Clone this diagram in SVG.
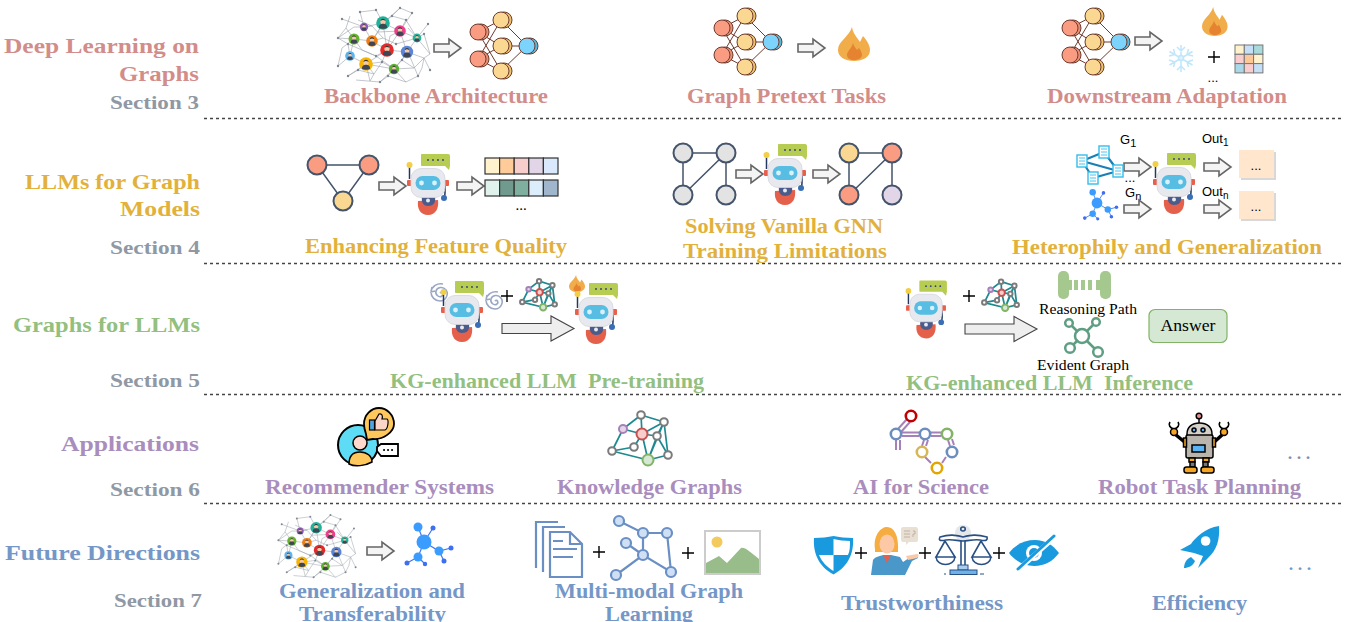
<svg xmlns="http://www.w3.org/2000/svg" xmlns:xlink="http://www.w3.org/1999/xlink" width="1356" height="622" viewBox="0 0 1356 622">
<style>
text{font-family:"Liberation Serif","Times New Roman",serif;white-space:pre}
.t{font-weight:700;font-size:21px}
.r{fill:#d28d8a}.y{fill:#e2b13c}.g{fill:#93bf7f}.p{fill:#a98dbd}.b{fill:#7497c8}.s{fill:#8f98a3;font-size:19px}
.k{fill:#000;font-size:17px}
.k15{fill:#000;font-size:15px}
.sans{font-family:"Liberation Sans",Arial,sans-serif;font-size:13px;fill:#000}
.dash{stroke:#444;stroke-width:1.4;stroke-dasharray:3 3;fill:none}
.ga{fill:none;stroke:#44546a;stroke-width:1.5}
.gn{stroke:#44546a;stroke-width:2}
.plus{stroke:#000;stroke-width:1.4;fill:none}
.sal{fill:#fa9c82}.yel{fill:#fad892}.lav{fill:#e1d5e7}.gry{fill:#e3e3e3}
.dots{fill:#7e8ea8;font-size:24px;letter-spacing:3px}
.doc{fill:#fff;stroke:#33bdec;stroke-width:1.4}
.mm{fill:#cfe0f5;stroke:#6a8fc4;stroke-width:2.2}
.mml{fill:none;stroke:#6a8fc4;stroke-width:2.2}
.bond{stroke:#a680b8;stroke-width:2;fill:none}
.mol{fill:#fff;stroke-width:2.6}
.nv{fill:none;stroke:#2a5083;stroke-width:1.6}
.ke{stroke:#1c8a91;stroke-width:var(--ke,1.7);fill:none}
.kn{fill:#fff;stroke:#7b7b7b;stroke-width:var(--kn,2)}
.heavy{--ke:3;--kn:3.4}
</style>
<defs>
<path id="arr" d="M0,-4H15V-9L27,0L15,9V4H0Z" fill="#f4f4f4" stroke="#666" stroke-width="1.6"/>
<path id="big" d="M0,-5H49V-12.5L72,0L49,12.5V5H0Z" fill="#eee" stroke="#444" stroke-width="1.1"/>
<g id="plus"><path class="plus" d="M-6,0H6M0,-6V6"/></g>
<g id="flame">
<path d="M14,0C15,7 19,10 22,15C23,13 24,11 25,9C29,14 32,18 32,23C32,30 25,34 16,34C7,34 0,30 0,23C0,14 11,10 14,0Z" fill="#f0ad4a"/>
<path d="M15,16C16,20 18,21 19,23C20,22 20,22 21,21C23,24 24,26 24,28C24,31 20,33 16,33C12,33 9,31 9,28C9,24 14,21 15,16Z" fill="#e58330"/>
</g>
<g id="nn">
<path d="M-23,-14L0,-26M-23,-14L0,0M-23,-14L0,25M-23,13L0,-26M-23,13L0,0M-23,13L0,25M0,-26L26,0M0,0L26,0M0,25L26,0" stroke="#6e3b2f" stroke-width="1" fill="none"/>
<g stroke="#6e3b2f" stroke-width="1">
<circle cx="-20" cy="-14" r="8" fill="#e98d73"/><circle cx="-23" cy="-14" r="8" class="sal"/>
<circle cx="-20" cy="13" r="8" fill="#e98d73"/><circle cx="-23" cy="13" r="8" class="sal"/>
<circle cx="3" cy="-26" r="8" fill="#eec36f"/><circle cx="0" cy="-26" r="8" class="yel"/>
<circle cx="3" cy="0" r="8" fill="#eec36f"/><circle cx="0" cy="0" r="8" class="yel"/>
<circle cx="3" cy="25" r="8" fill="#eec36f"/><circle cx="0" cy="25" r="8" class="yel"/>
<circle cx="29" cy="0" r="8" fill="#5bb8d8"/><circle cx="26" cy="0" r="8" fill="#7cd3fb"/>
</g>
</g>
<g id="per"><circle r="10"/><circle cy="-2" r="3.8" fill="#f3c9a8"/><path d="M-6,7C-6,2 -3,1 0,1C3,1 6,2 6,7C3,9 -3,9 -6,7Z" fill="#3d4652"/><path d="M-3.8,-3C-3,-7.500 3,-7.500 3.8,-3C1,-5 -1,-5 -3.8,-3Z" fill="#333"/></g>
<g id="crowd">
<g stroke="#9aa1aa" stroke-width=".6" fill="none">
<path d="M-46,-8L-30,-19M-30,-19L-20,-19M-20,-19L-1,-23M-1,-23L16,-15M16,-15L33,-8M33,-8L46,8M-30,-7L-12,-5M-12,-5L3,4M3,4L23,6M23,6L40,12M-34,10L-18,18M-18,18L10,23M10,23L24,6M-18,18L3,4M-30,-7L-34,10M-12,-5L-20,-19M-12,-5L-1,-23M-1,-23L3,4M16,-15L3,4M16,-15L23,6M33,-8L23,6M-42,-27L-20,-19M-20,-19L-24,-34M-1,-23L-8,-36M-1,-23L16,-38M16,-15L28,-33M33,-8L44,-22M40,12L46,24M24,6L34,30M10,23L22,36M10,23L-4,36M-18,18L-14,35M-18,18L-36,30M-34,10L-46,20M-30,-7L-46,-8M-22,4L-8,10L3,4M-8,10L10,23M-8,10L-22,4L-30,-7M-38,-18L-30,-7M-12,-20L-20,-19M12,-2L33,-8M12,-2L-1,-8L-12,-5M30,22L10,23M30,22L40,12M-10,28L-18,18M-4,36L-28,34M22,36L34,30M16,-38L28,-33M-8,-36L-24,-34M-34,-30L-38,-18M-38,-18L-46,-8M-36,-2L-46,-8M-36,-2L-34,10M-36,-2L-22,4M-26,-26L-12,-20L-1,-8M8,-30L-1,-23M8,-30L16,-38M8,-30L22,-26L33,-8M22,-26L16,-15M40,-12L46,8L40,12M40,-12L33,-8M38,22L40,12M38,22L34,30M18,14L23,6M18,14L10,23M18,14L30,22M-2,16L3,4M-2,16L-18,18M-2,16L10,23M-2,16L-10,28L-14,35M-26,24L-18,18M-26,24L-36,30M-26,24L-10,28M-42,2L-46,20M-42,2L-30,-7M4,30L10,23M4,30L-4,36M4,30L22,36M-6,-14L-1,-23M-6,-14L-12,-5M-6,-14L16,-15M24,-18L33,-8M6,-10L16,-15M6,-10L3,4"/>
</g>
<g fill="#7f8894"><circle cx="-46" cy="-8" r="1.2"/><circle cx="-24" cy="-34" r="1.2"/><circle cx="-8" cy="-36" r="1.2"/><circle cx="16" cy="-38" r="1.2"/><circle cx="44" cy="-22" r="1.2"/><circle cx="46" cy="24" r="1.2"/><circle cx="34" cy="30" r="1.2"/><circle cx="-4" cy="36" r="1.2"/><circle cx="-36" cy="30" r="1.2"/><circle cx="-46" cy="20" r="1.2"/><circle cx="-8" cy="10" r="1.2"/><circle cx="12" cy="-2" r="1.2"/><circle cx="-42" cy="-27" r="1.2"/><circle cx="28" cy="-33" r="1.2"/><circle cx="-36" cy="-2" r="1.2"/><circle cx="8" cy="-30" r="1.2"/><circle cx="22" cy="-26" r="1.2"/><circle cx="40" cy="-12" r="1.2"/><circle cx="18" cy="14" r="1.2"/><circle cx="-2" cy="16" r="1.2"/><circle cx="-26" cy="24" r="1.2"/><circle cx="4" cy="30" r="1.2"/></g>
<use href="#per" transform="translate(-20,-19) scale(.42)" fill="#8e5bb5"/>
<use href="#per" transform="translate(-1,-23) scale(.68)" fill="#1fb19a"/>
<use href="#per" transform="translate(16,-15) scale(.58)" fill="#ea3f8a"/>
<use href="#per" transform="translate(33,-8) scale(.44)" fill="#27b39a"/>
<use href="#per" transform="translate(-30,-7) scale(.55)" fill="#65b32e"/>
<use href="#per" transform="translate(-12,-5) scale(.58)" fill="#f07f13"/>
<use href="#per" transform="translate(3,4) scale(.68)" fill="#e32a2a"/>
<use href="#per" transform="translate(23,6) scale(.62)" fill="#5b85d9"/>
<use href="#per" transform="translate(-34,10) scale(.48)" fill="#5cb3f0"/>
<use href="#per" transform="translate(-18,18) scale(.68)" fill="#f7b500"/>
<use href="#per" transform="translate(10,23) scale(.52)" fill="#5bb030"/>
</g>
<g id="robot">
<path d="M-6.5,-29H20A2,2 0 0 1 22,-27V-17L21,-13L17,-17H-6.5A1,1 0 0 1 -7,-18V-28A1,1 0 0 1 -6.5,-29Z" fill="#b7cc52"/>
<g fill="#2f3f78"><circle cx="0" cy="-23" r=".9"/><circle cx="5" cy="-23" r=".9"/><circle cx="10" cy="-23" r=".9"/><circle cx="15" cy="-23" r=".9"/></g>
<path d="M-18.5,-16V-4" stroke="#24375f" stroke-width="1.5" fill="none"/>
<circle cx="-18.5" cy="-18" r="3" fill="#f2cf45"/>
<path d="M-10,18C-11,25 -8,32 0,32C8,32 11,25 10,17Z" fill="#e4604a"/>
<path d="M-6,14H7C8,20 5,23 0,23C-4,23 -7,20 -6,14Z" fill="#4a5c8c"/>
<circle cx="0" cy="17.500" r="2" fill="#e8eaee"/>
<path d="M17,-2V10C17,13 16,14 16,15" stroke="#24375f" stroke-width="1.5" fill="none"/>
<circle cx="16" cy="15" r="3" fill="#3a6fb5"/>
<rect x="-21" y="-3" width="5" height="6" rx="1" fill="#e8604c"/><rect x="16" y="-3" width="5" height="6" rx="1" fill="#e8604c"/>
<rect x="-17" y="-14.500" width="34" height="29" rx="10" fill="#e8e9ee" stroke="#d4d6dc" stroke-width=".8"/>
<rect x="-12.500" y="-7" width="25" height="14" rx="7" fill="#57bde3"/>
<circle cx="-6.500" r="2.400" fill="#d9f1fa"/><circle cx="6.500" r="2.400" fill="#d9f1fa"/>
</g>
<g id="spiral"><path d="M0,0C2,-2 4,1 2,3C-1,5 -5,2 -4,-2C-3,-6 3,-7 6,-3C9,1 6,8 0,8C-5,8 -9,4 -9,-1M-8,-6L-9,-1L-5,-2M3,-9C-3,-10 -8,-7 -9,-1" fill="none" stroke="#9aa7c4" stroke-width="1.6"/></g>
<g id="kg">
<path class="ke" d="M1,-23L24,-16M1,-23L-17,-9M1,-23L2,-4M24,-16L2,-4M24,-16L17,-2M24,-16L28,17M-17,-9L2,-4M-17,-9L-28,13M2,-4L17,-2M2,-4L-6,9M2,-4L8,22M17,-2L8,22M17,-2L28,17M-6,9L-28,13M-28,13L8,22M8,22L28,17M24,-16L8,22"/>
<g class="kn"><circle cx="1" cy="-23" r="3.800"/><circle cx="24" cy="-16" r="3.800"/><circle cx="17" cy="-2" r="3.800"/><circle cx="-6" cy="9" r="3.800"/><circle cx="-28" cy="13" r="3.800"/><circle cx="28" cy="17" r="3.800"/></g>
<circle cx="-17" cy="-9" r="4" fill="#e1d5e7" stroke="#a680b8" style="stroke-width:var(--kn,2)"/>
<circle cx="2" cy="-4" r="5.500" fill="#f8cecc" stroke="#c85050" style="stroke-width:var(--kn,2)"/>
<circle cx="8" cy="22" r="5.500" fill="#d5e8d4" stroke="#82b366" style="stroke-width:var(--kn,2)"/>
</g>
<g id="hub">
<path d="M0,0L-6,-15M0,0L9,-14M0,0L15,9L27,6M15,9L20,19M0,0L-6,15L1,22M-6,15L-17,21" stroke="#3f79f0" stroke-width="1.200" fill="none"/>
<circle r="7.500" fill="#3b9cff"/>
<g fill="#3b9cff"><circle cx="-6" cy="-15" r="4.500"/><circle cx="15" cy="9" r="4.500"/><circle cx="-6" cy="15" r="4.500"/></g>
<g fill="#3f6ff0"><circle cx="9" cy="-14" r="2.500"/><circle cx="27" cy="6" r="2.500"/><circle cx="20" cy="19" r="2.500"/><circle cx="1" cy="22" r="2.200"/><circle cx="-17" cy="21" r="2.500"/></g>
</g>
<g id="docn"><rect x="-5" y="-6" width="10" height="12" class="doc"/><path d="M-3,-3H3M-3,0H3M-3,3H3" stroke="#33bdec" stroke-width=".9"/></g>
</defs>

<g id="connectors">
<path class="dash" d="M204,118.500H1341M204,263.500H1341M204,394.500H1341M204,503.500H1341"/>
<use href="#arr" x="434" y="48"/><use href="#arr" x="798" y="48"/><use href="#arr" x="1135" y="41"/>
<use href="#arr" x="379" y="186"/><use href="#arr" x="457" y="186"/>
<use href="#arr" x="736" y="174"/><use href="#arr" x="813" y="174"/>
<use href="#arr" x="1124" y="167"/><use href="#arr" x="1124" y="209"/>
<use href="#arr" x="1204" y="167"/><use href="#arr" x="1204" y="209"/>
<use href="#big" x="502" y="328.500"/><use href="#big" x="965" y="329"/>
<use href="#arr" x="367" y="551"/>
</g>

<g id="labels-left">
<text x="4" y="53" class="t r" textLength="195" lengthAdjust="spacingAndGlyphs">Deep Learning on</text>
<text x="119" y="81" class="t r" textLength="80" lengthAdjust="spacingAndGlyphs">Graphs</text>
<text x="110" y="109" class="t s" textLength="89" lengthAdjust="spacingAndGlyphs">Section 3</text>
<text x="25" y="189" class="t y" textLength="175" lengthAdjust="spacingAndGlyphs">LLMs for Graph</text>
<text x="120" y="216" class="t y" textLength="80" lengthAdjust="spacingAndGlyphs">Models</text>
<text x="110" y="254" class="t s" textLength="90" lengthAdjust="spacingAndGlyphs">Section 4</text>
<text x="13" y="332" class="t g" textLength="187" lengthAdjust="spacingAndGlyphs">Graphs for LLMs</text>
<text x="110" y="387" class="t s" textLength="90" lengthAdjust="spacingAndGlyphs">Section 5</text>
<text x="61" y="451" class="t p" textLength="138" lengthAdjust="spacingAndGlyphs">Applications</text>
<text x="110" y="496" class="t s" textLength="90" lengthAdjust="spacingAndGlyphs">Section 6</text>
<text x="5" y="560" class="t b" textLength="195" lengthAdjust="spacingAndGlyphs">Future Directions</text>
<text x="114" y="607" class="t s" textLength="88" lengthAdjust="spacingAndGlyphs">Section 7</text>
</g>

<g id="backbone-architecture">
<use href="#crowd" x="384" y="46"/>
<use href="#nn" x="501" y="46"/>
<text x="324" y="103" class="t r" textLength="224" lengthAdjust="spacingAndGlyphs">Backbone Architecture</text>
</g>
<g id="graph-pretext-tasks">
<use href="#nn" x="745" y="42"/>
<use href="#flame" x="838" y="27"/>
<text x="687" y="103" class="t r" textLength="199" lengthAdjust="spacingAndGlyphs">Graph Pretext Tasks</text>
</g>
<g id="downstream-adaptation">
<use href="#nn" x="1093" y="42"/>
<use href="#flame" transform="translate(1202,7) scale(.8,.85)"/>
<g id="snow" stroke="#bfe6fb" stroke-width="1.500" fill="none"><path d="M1181,45V72M1169.500,51.500L1192.500,65M1169.500,65L1192.500,51.500M1177,47L1181,51L1185,47M1177,70L1181,66L1185,70M1169,56L1175,54.500L1173.500,49M1193,56L1187,54.500L1188.500,49M1169,60L1175,62L1173.500,67M1193,60L1187,62L1188.500,67"/><circle cx="1181" cy="58" r="2.500" fill="#dff3fd"/></g>
<use href="#plus" x="1214" y="57"/>
<text x="1213" y="82" class="sans" text-anchor="middle">...</text>
<g stroke="#777" stroke-width="1">
<rect x="1235" y="45" width="9.300" height="9.300" fill="#fff2cc"/><rect x="1244.300" y="45" width="9.300" height="9.300" fill="#c5dff8"/><rect x="1253.600" y="45" width="9.300" height="9.300" fill="#a8dadc"/>
<rect x="1235" y="54.300" width="9.300" height="9.300" fill="#f9cdcd"/><rect x="1244.300" y="54.300" width="9.300" height="9.300" fill="#fdc898"/><rect x="1253.600" y="54.300" width="9.300" height="9.300" fill="#fff2cc"/>
<rect x="1235" y="63.600" width="9.300" height="9.300" fill="#a9d8e8"/><rect x="1244.300" y="63.600" width="9.300" height="9.300" fill="#f9cdcd"/><rect x="1253.600" y="63.600" width="9.300" height="9.300" fill="#c5dff8"/>
</g>
<text x="1047" y="103" class="t r" textLength="240" lengthAdjust="spacingAndGlyphs">Downstream Adaptation</text>
</g>

<g id="enhancing-feature-quality">
<path class="ga" d="M317,165H369L343,201Z"/>
<circle class="gn sal" cx="317" cy="165" r="9.500"/><circle class="gn sal" cx="369" cy="165" r="9.500"/><circle class="gn yel" cx="343" cy="201" r="9.500"/>
<use href="#robot" x="428" y="183"/>
<g stroke="#333" stroke-width="1.200">
<rect x="485" y="158" width="14.600" height="16" fill="#fff2cc"/><rect x="499.600" y="158" width="14.600" height="16" fill="#ffcc99"/><rect x="514.200" y="158" width="14.600" height="16" fill="#f8cecc"/><rect x="528.800" y="158" width="14.600" height="16" fill="#e1d5e7"/><rect x="543.400" y="158" width="14.600" height="16" fill="#dae8fc"/>
<rect x="485" y="180" width="14.600" height="16" fill="#dff2ec"/><rect x="499.600" y="180" width="14.600" height="16" fill="#6f9a8d"/><rect x="514.200" y="180" width="14.600" height="16" fill="#7fb09f"/><rect x="528.800" y="180" width="14.600" height="16" fill="#dcedfb"/><rect x="543.400" y="180" width="14.600" height="16" fill="#a0b6cc"/>
</g>
<text x="521" y="210" class="k15" text-anchor="middle">...</text>
<text x="305" y="253" class="t y" textLength="262" lengthAdjust="spacingAndGlyphs">Enhancing Feature Quality</text>
</g>
<g id="solving-vanilla-gnn">
<path class="ga" d="M683,153H726V195M683,153V195L726,153"/>
<circle class="gn gry" cx="683" cy="153" r="9.500"/><circle class="gn gry" cx="726" cy="153" r="9.500"/><circle class="gn gry" cx="683" cy="195" r="9.500"/><circle class="gn gry" cx="726" cy="195" r="9.500"/>
<use href="#robot" x="785" y="173"/>
<path class="ga" d="M849,153H892V195M849,153V195L892,153"/>
<circle class="gn yel" cx="849" cy="153" r="9.500"/><circle class="gn sal" cx="892" cy="153" r="9.500"/><circle class="gn sal" cx="849" cy="195" r="9.500"/><circle class="gn lav" cx="892" cy="195" r="9.500"/>
<text x="685" y="233" class="t y" textLength="198" lengthAdjust="spacingAndGlyphs">Solving Vanilla GNN</text>
<text x="683" y="258" class="t y" textLength="204" lengthAdjust="spacingAndGlyphs">Training Limitations</text>
</g>
<g id="heterophily-generalization">
<path d="M1104,152L1082,161M1104,152L1118,171M1082,161L1118,171M1082,161L1093,178M1118,171L1093,178" stroke="#1a7fb5" stroke-width="2.200" fill="none"/>
<use href="#docn" x="1104" y="152"/><use href="#docn" x="1082" y="161"/><use href="#docn" x="1118" y="171"/><use href="#docn" x="1093" y="178"/>
<text x="1130" y="182" class="sans" text-anchor="middle">...</text>
<use href="#hub" transform="translate(1097,203) scale(.72)"/>
<use href="#robot" x="1174" y="182"/>
<text x="1120" y="144" class="sans">G<tspan dy="3" font-size="11">1</tspan></text>
<text x="1125" y="197" class="sans">G<tspan dy="3" font-size="11">n</tspan></text>
<text x="1202" y="143" class="sans">Out<tspan dy="3" font-size="10">1</tspan></text>
<text x="1202" y="196" class="sans">Out<tspan dy="3" font-size="10">n</tspan></text>
<rect x="1241" y="152" width="35" height="28" fill="#d8d8d8"/><rect x="1239" y="150" width="35" height="28" fill="#ffe6cc"/>
<rect x="1241" y="193" width="35" height="28" fill="#d8d8d8"/><rect x="1239" y="191" width="35" height="28" fill="#ffe6cc"/>
<text x="1256" y="170" class="sans" text-anchor="middle">...</text>
<text x="1256" y="211" class="sans" text-anchor="middle">...</text>
<text x="1012" y="254" class="t y" textLength="310" lengthAdjust="spacingAndGlyphs">Heterophily and Generalization</text>
</g>

<g id="kg-pretraining">
<use href="#spiral" x="440" y="293"/>
<use href="#robot" x="462" y="310"/>
<use href="#spiral" x="495" y="301"/>
<use href="#plus" x="507" y="296"/>
<use href="#kg" class="heavy" transform="translate(538.500,294.500) scale(.58)"/>
<use href="#flame" transform="translate(569,275) scale(.5)"/>
<use href="#robot" x="596" y="312"/>
<text x="390" y="388" class="t g" textLength="314" lengthAdjust="spacingAndGlyphs" xml:space="preserve">KG-enhanced LLM  Pre-training</text>
</g>
<g id="kg-inference">
<use href="#robot" transform="translate(926,308) scale(.95)"/>
<use href="#plus" x="969" y="296"/>
<use href="#kg" class="heavy" transform="translate(1000.500,295) scale(.58)"/>
<g fill="#a5c88f"><rect x="1058" y="271" width="11" height="28" rx="5"/><rect x="1100" y="271" width="11" height="28" rx="5"/><rect x="1069" y="280" width="3" height="10"/><rect x="1074" y="280" width="4" height="10"/><rect x="1081" y="280" width="4" height="10"/><rect x="1088" y="280" width="4" height="10"/><rect x="1096" y="280" width="4" height="10"/></g>
<text x="1039" y="314" class="k15" textLength="98" lengthAdjust="spacingAndGlyphs">Reasoning Path</text>
<g fill="none" stroke="#5e9e82" stroke-width="2.500"><path d="M1072,326L1078,332M1093,325L1087,331M1073,345L1078,340M1095,349L1087,341"/><circle cx="1082" cy="336" r="7"/><circle cx="1069" cy="323" r="3.800"/><circle cx="1096" cy="322" r="3.800"/><circle cx="1070" cy="348" r="4.800"/><circle cx="1098" cy="352" r="4.800"/></g>
<text x="1037" y="370" class="k15" textLength="92" lengthAdjust="spacingAndGlyphs">Evident Graph</text>
<rect x="1149" y="309.500" width="78" height="33" rx="6" fill="#d5e8d4" stroke="#82b366" stroke-width="1.200"/>
<text x="1188" y="331" class="k" text-anchor="middle" textLength="55" lengthAdjust="spacingAndGlyphs">Answer</text>
<text x="906" y="390" class="t g" textLength="287" lengthAdjust="spacingAndGlyphs" xml:space="preserve">KG-enhanced LLM  Inference</text>
</g>

<g id="recommender-systems">
<circle cx="358" cy="445" r="20" fill="#5fdcf5" stroke="#000" stroke-width="2"/>
<path d="M349,464C349,456 353,452 360,452C367,452 372,456 372,462C365,466 355,467 349,464Z" fill="#ffc85c" stroke="#000" stroke-width="1.500"/>
<circle cx="360" cy="443" r="7" fill="#ffd7cb" stroke="#000" stroke-width="1.500"/>
<path d="M377,447L381,444H398V456H381L377,451Z" fill="#fff" stroke="#000" stroke-width="1.800"/>
<path d="M384,450h.1M388,450h.1M392,450h.1" stroke="#000" stroke-width="2" stroke-linecap="round"/>
<path d="M366,434L367,440L373,439C383,440 394,432 394,424C394,415 387,408 379,408C371,408 364,415 364,424C364,428 365,431 366,434Z" fill="#ffc85c" stroke="#000" stroke-width="1.800"/>
<rect x="369.500" y="420" width="5" height="10" fill="#4ea6e0" stroke="#000" stroke-width="1.200"/>
<path d="M375,421L379,414C382,413 383,416 382,419H387C389,420 388,429 385,430H375Z" fill="#fbd5c8" stroke="#000" stroke-width="1.200"/>
<text x="265" y="494" class="t p" textLength="229" lengthAdjust="spacingAndGlyphs">Recommender Systems</text>
</g>
<g id="knowledge-graphs">
<use href="#kg" x="640" y="438"/>
<text x="557" y="494" class="t p" textLength="185" lengthAdjust="spacingAndGlyphs">Knowledge Graphs</text>
</g>
<g id="ai-for-science">
<path class="bond" d="M898,429L907,419M901,432L910,422M896,440V450M900,440V450M902,432.500H919M902,436H919M931,432.500H941M931,436H941M924,440L922,446M928,440L926,446M948,440L950,446M952,439L954,445M925,457L931,463M946,457L942,463"/>
<circle class="mol" cx="911" cy="416" r="5.200" stroke="#c00000"/>
<circle class="mol" cx="896" cy="434" r="5.200" stroke="#6c8ebf"/>
<circle class="mol" cx="925" cy="434" r="5.200" stroke="#6c8ebf"/>
<circle class="mol" cx="947" cy="434" r="5.200" stroke="#82b366"/>
<circle class="mol" cx="922" cy="452" r="5.200" stroke="#d6b656"/>
<circle class="mol" cx="952" cy="452" r="5.200" stroke="#6c8ebf"/>
<circle class="mol" cx="937" cy="468" r="5.200" stroke="#e3a500"/>
<text x="853" y="494" class="t p" textLength="136" lengthAdjust="spacingAndGlyphs">AI for Science</text>
</g>
<g id="robot-task-planning">
<g stroke="#000" stroke-width="1.500">
<path d="M1176,435L1187,444M1222,435L1212,444" stroke-width="3.500"/>
<path d="M1174,429C1170,428 1168,425 1170,422M1174,429C1178,428 1180,425 1178,422M1224,429C1220,428 1218,425 1220,422M1224,429C1228,428 1230,425 1228,422" fill="none" stroke-width="1.600"/>
<circle cx="1174" cy="432" r="3.500" fill="#f6a623"/><circle cx="1224" cy="432" r="3.500" fill="#f6a623"/>
<path d="M1199,419V424" fill="none"/>
<circle cx="1199" cy="416" r="2.800" fill="#f08a92"/>
<path d="M1187,436V434C1187,427 1192,423 1199.500,423C1207,423 1212,427 1212,434V436Z" fill="#d5d0c8"/>
<rect x="1186" y="435" width="27" height="23" rx="2" fill="#b9b4ac"/>
<rect x="1183.500" y="438" width="3" height="9" fill="#f6a623"/><rect x="1212.500" y="438" width="3" height="9" fill="#f6a623"/>
<circle cx="1194" cy="430" r="2" fill="#5ab4f4"/><circle cx="1203" cy="430" r="2" fill="#5ab4f4"/>
<rect x="1192" y="445" width="13" height="7" fill="#5ab4f4"/>
<rect x="1189" y="458" width="6" height="4" fill="#f6a623"/><rect x="1203" y="458" width="6" height="4" fill="#f6a623"/>
<rect x="1190" y="462" width="5" height="5" fill="#777"/><rect x="1203" y="462" width="5" height="5" fill="#777"/>
<rect x="1184" y="467" width="13" height="6" rx="2.500" fill="#f6a623"/><rect x="1201" y="467" width="13" height="6" rx="2.500" fill="#f6a623"/>
</g>
<text x="1098" y="494" class="t p" textLength="203" lengthAdjust="spacingAndGlyphs">Robot Task Planning</text>
</g>
<text x="1287" y="459" class="dots">...</text>

<g id="generalization-transferability">
<use href="#crowd" transform="translate(317,547) scale(.84)"/>
<use href="#hub" x="424" y="542"/>
<text x="279" y="598" class="t b" textLength="186" lengthAdjust="spacingAndGlyphs">Generalization and</text>
<text x="299" y="621" class="t b" textLength="147" lengthAdjust="spacingAndGlyphs">Transferability</text>
</g>
<g id="multi-modal">
<path class="mml" d="M536,568V522H558M543,572V527H565M550,577V532H570L582,544V577ZM570,532V544H582M553,541H563M553,549H577M553,557H573"/>
<use href="#plus" x="599" y="552"/>
<path class="mml" d="M619,521L643,533L667,533L671,572L643,555L616,575M643,533V555M626,543L643,555"/>
<circle class="mm" cx="619" cy="521" r="5"/><circle class="mm" cx="643" cy="533" r="5"/><circle class="mm" cx="667" cy="533" r="5"/><circle class="mm" cx="626" cy="543" r="5"/><circle class="mm" cx="643" cy="555" r="5"/><circle class="mm" cx="616" cy="575" r="5"/><circle class="mm" cx="671" cy="572" r="5"/>
<use href="#plus" x="688" y="553"/>
<rect x="705" y="531" width="55" height="43" fill="#fff" stroke="#ccc" stroke-width="2"/>
<circle cx="717" cy="542" r="5.500" fill="#f4c95d"/>
<path d="M706,573V563L719,556L727,563L741,548C745,547 750,552 759,559V573Z" fill="#98bd8a"/>
<text x="555" y="598" class="t b" textLength="188" lengthAdjust="spacingAndGlyphs">Multi-modal Graph</text>
<text x="605" y="621" class="t b" textLength="88" lengthAdjust="spacingAndGlyphs">Learning</text>
</g>
<g id="trustworthiness">
<path d="M814,538C821,538 828,537 833.500,536C839,537 846,538 853,538C854,552 849,566 833.500,574.500C818,566 813,552 814,538Z" fill="#1a9ade"/>
<path d="M833.500,539C838,540 845,541 850,541C850,546 850,551 848,555H833.500ZM833.500,555V571C827,567 822,562 819,555Z" fill="#fff"/>
<use href="#plus" x="861" y="553"/>
<path d="M875,549C873,535 881,527 887,527C894,527 899,535 898,552H875Z" fill="#f5ad41"/>
<ellipse cx="887" cy="544" rx="7.500" ry="9.500" fill="#fcc8a5"/>
<path d="M871,575L873,560C875,557 880,556 883,555H891L900,557L903,562L912,556L918,555V558L912,561L905,575Z" fill="#4a97c9"/>
<path d="M883,555L887,563L891,555Z" fill="#e4604a"/>
<path d="M906,556L917,554C919,554 919,557 917,558L908,560Z" fill="#fcc8a5"/>
<path d="M903,527H916C917,527 918,528 918,529V540C918,541 917,542 916,542H909L906,545V542H903C902,542 901,541 901,540V529C901,528 902,527 903,527Z" fill="#e9e0d3"/>
<path d="M904,531H910M904,534H910M904,537H910M913,531H915V534H913V537" stroke="#bdb3a4" fill="none"/>
<use href="#plus" x="925" y="553"/>
<circle cx="963" cy="533" r="8" fill="#e5e7ea"/>
<path class="nv" d="M963,527C960,527 960,531 963,531C966,531 966,527 963,527ZM940,537C950,534 955,535 963,537C971,535 976,534 987,537C988,541 985,541 980,540C974,539 968,541 963,541C958,541 952,539 946,540C941,541 938,541 940,537ZM961,541V565M965,541V565M945,541L936,557H955ZM981,541L972,557H991ZM936,557C937,567 954,567 955,557ZM972,557C973,567 990,567 991,557M959,566H967"/>
<rect x="958" y="565" width="10" height="5" fill="#a7cdf1" stroke="#2a5083"/>
<rect x="950" y="570" width="27" height="4.500" fill="#6db3ea" stroke="#2a5083"/>
<path d="M944,574h2M980,574h4" stroke="#2a5083" stroke-width="1.200"/>
<use href="#plus" x="999" y="553"/>
<path d="M1009,553C1016,544 1025,540 1035,540C1045,540 1053,545 1059,553C1053,561 1045,566 1034,566C1024,566 1015,561 1009,553Z" fill="#1a9ade"/>
<circle cx="1034" cy="553" r="8" fill="#fff"/><circle cx="1034" cy="553" r="5" fill="#1a9ade"/>
<path d="M1056,536L1019,569" stroke="#fff" stroke-width="5"/>
<path d="M1054,536L1018,569" stroke="#1a9ade" stroke-width="3" stroke-linecap="round"/>
<text x="841" y="610" class="t b" textLength="162" lengthAdjust="spacingAndGlyphs">Trustworthiness</text>
</g>
<g id="efficiency">
<path d="M1219,526C1220,539 1217,550 1208,558L1198,568L1203,556L1194,553L1180,550L1191,544C1195,538 1205,528 1219,526Z" fill="#1a9ade"/>
<circle cx="1205.600" cy="541" r="4.800" fill="#fff"/>
<path d="M1191,557C1186,559 1184,564 1184,568C1188,568 1193,566 1195,561Z" fill="#1a9ade"/>
<text x="1152" y="610" class="t b" textLength="95" lengthAdjust="spacingAndGlyphs">Efficiency</text>
</g>
<text x="1288" y="570" class="dots" style="fill:#7497c8">...</text>
</svg>
